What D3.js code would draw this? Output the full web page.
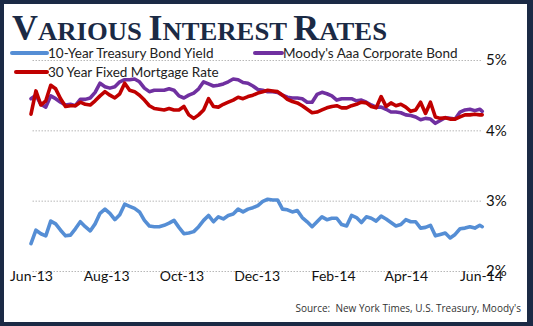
<!DOCTYPE html>
<html><head><meta charset="utf-8">
<script src="https://cdn.jsdelivr.net/npm/d3@7"></script>
<style>html,body{margin:0;padding:0;background:#fff;}svg{display:block;}</style>
</head><body>
<svg id="chart" width="533" height="326"></svg>
<script>
const dates = [
"2013-06-01","2013-06-05","2013-06-09","2013-06-13","2013-06-17","2013-06-21","2013-06-25","2013-06-29",
"2013-07-03","2013-07-07","2013-07-11","2013-07-15","2013-07-19","2013-07-23","2013-07-27","2013-07-31",
"2013-08-04","2013-08-08","2013-08-12","2013-08-16","2013-08-20","2013-08-24","2013-08-28",
"2013-09-01","2013-09-05","2013-09-09","2013-09-13","2013-09-17","2013-09-21","2013-09-25","2013-09-29",
"2013-10-03","2013-10-07","2013-10-11","2013-10-15","2013-10-19","2013-10-23","2013-10-27","2013-10-31",
"2013-11-04","2013-11-08","2013-11-12","2013-11-16","2013-11-20","2013-11-24","2013-11-28",
"2013-12-02","2013-12-06","2013-12-10","2013-12-14","2013-12-18","2013-12-22","2013-12-26","2013-12-30",
"2014-01-03","2014-01-07","2014-01-11","2014-01-15","2014-01-19","2014-01-23","2014-01-27","2014-01-31",
"2014-02-04","2014-02-08","2014-02-12","2014-02-16","2014-02-20","2014-02-24","2014-02-28",
"2014-03-04","2014-03-08","2014-03-12","2014-03-16","2014-03-20","2014-03-24","2014-03-28",
"2014-04-01","2014-04-05","2014-04-09","2014-04-13","2014-04-17","2014-04-21","2014-04-25","2014-04-29",
"2014-05-03","2014-05-07","2014-05-11","2014-05-15","2014-05-19","2014-05-23","2014-05-27","2014-05-31",
"2014-06-02"];

const treasury10y = [
2.39,2.58,2.53,2.50,2.71,2.67,2.58,2.50,
2.51,2.60,2.70,2.63,2.57,2.67,2.82,2.88,
2.82,2.73,2.80,2.95,2.92,2.89,2.84,
2.72,2.64,2.63,2.63,2.65,2.68,2.72,2.62,
2.53,2.54,2.56,2.63,2.72,2.79,2.70,2.77,
2.74,2.79,2.81,2.88,2.84,2.88,2.90,
2.93,2.99,3.02,3.01,3.01,2.88,2.87,2.84,
2.86,2.76,2.70,2.63,2.70,2.77,2.73,2.75,
2.75,2.66,2.64,2.79,2.76,2.69,2.77,
2.75,2.71,2.78,2.74,2.69,2.64,2.66,
2.73,2.70,2.70,2.61,2.62,2.65,2.50,2.52,
2.54,2.47,2.52,2.60,2.61,2.63,2.61,2.65,
2.63];

const moodysAaa = [
4.45,4.50,4.37,4.33,4.49,4.45,4.40,4.36,
4.37,4.35,4.44,4.44,4.46,4.54,4.67,4.62,
4.60,4.62,4.69,4.72,4.72,4.73,4.69,
4.60,4.55,4.57,4.57,4.57,4.59,4.57,4.49,
4.46,4.50,4.53,4.59,4.69,4.66,4.63,4.64,
4.66,4.69,4.73,4.72,4.68,4.67,4.63,
4.58,4.57,4.55,4.55,4.54,4.50,4.47,4.46,
4.46,4.45,4.40,4.40,4.51,4.54,4.52,4.49,
4.43,4.45,4.45,4.45,4.42,4.43,4.40,
4.36,4.33,4.33,4.30,4.26,4.26,4.25,
4.22,4.21,4.19,4.15,4.17,4.16,4.10,4.14,
4.18,4.17,4.16,4.26,4.29,4.30,4.28,4.30,
4.27];

const mortgage30y = [
4.23,4.56,4.36,4.42,4.64,4.59,4.45,4.34,
4.35,4.35,4.40,4.37,4.36,4.42,4.49,4.55,
4.50,4.46,4.52,4.67,4.57,4.55,4.50,
4.43,4.35,4.31,4.30,4.29,4.31,4.29,4.29,
4.34,4.22,4.17,4.22,4.29,4.45,4.34,4.33,
4.37,4.40,4.43,4.47,4.45,4.48,4.50,
4.53,4.55,4.57,4.56,4.55,4.50,4.44,4.41,
4.39,4.35,4.30,4.25,4.26,4.29,4.32,4.34,
4.35,4.32,4.32,4.35,4.37,4.40,4.39,
4.34,4.32,4.48,4.34,4.39,4.35,4.37,
4.33,4.27,4.29,4.40,4.24,4.40,4.19,4.17,
4.18,4.16,4.16,4.19,4.22,4.22,4.23,4.22,
4.22];

const xTickDates = ["2013-06-01","2013-08-01","2013-10-01","2013-12-01","2014-02-01","2014-04-01","2014-06-01"];
const xTickLabels = ["Jun-13","Aug-13","Oct-13","Dec-13","Feb-14","Apr-14","Jun-14"];
const yTicks = [2,3,4,5];
const yTickLabels = ["2%","3%","4%","5%"];
const seriesNames = ["10-Year Treasury Bond Yield","Moody's Aaa Corporate Bond","30 Year Fixed Mortgage Rate"];
const seriesColors = ["#558ed5","#7030a0","#c00000"];

const parse = d3.timeParse("%Y-%m-%d");
const svg = d3.select("#chart");
const navy = "#1b2a45";

svg.append("rect").attr("width",533).attr("height",326).attr("fill",navy);
svg.append("rect").attr("x",4).attr("y",4).attr("width",523).attr("height",318).attr("fill","#fff");

const x = d3.scaleTime().domain([parse("2013-06-01"), parse("2014-06-01")]).range([31,481]);
const y = d3.scaleLinear().domain([2,5]).range([271,60]);

// Y axis with dotted gridlines
const yAxis = svg.append("g").attr("transform","translate(481,0)")
  .call(d3.axisRight(y).tickValues(yTicks).tickSize(-450).tickPadding(5)
    .tickFormat((d,i)=>yTickLabels[i]));
yAxis.select(".domain").remove();
yAxis.selectAll("line").attr("stroke","#b8b8b8").attr("stroke-dasharray","1.5,1.5");
yAxis.selectAll("text").attr("font-family","Lato, 'DejaVu Sans', sans-serif").attr("font-size",15).attr("fill","#111");

// X axis
const xAxis = svg.append("g").attr("transform","translate(0,271)")
  .call(d3.axisBottom(x).tickValues(xTickDates.map(parse)).tickSize(0).tickPadding(0)
    .tickFormat((d,i)=>xTickLabels[i]));
xAxis.select(".domain").remove();
xAxis.selectAll("text").attr("font-family","Lato, 'DejaVu Sans', sans-serif").attr("font-size",14).attr("fill","#111");

// Lines
const series = [treasury10y, moodysAaa, mortgage30y];
const line = d3.line().x((d,i)=>x(parse(dates[i]))).y(d=>y(d));
series.forEach((s,k)=>{
  svg.append("path").datum(s).attr("d",line).attr("fill","none")
    .attr("stroke",seriesColors[k]).attr("stroke-width",3.6)
    .attr("stroke-linejoin","round").attr("stroke-linecap","round");
});

// Legend
const legendPos = [{x1:12,x2:47,y:53,tx:48},{x1:255,x2:282,y:53,tx:283},{x1:16,x2:47,y:72,tx:48}];
legendPos.forEach((p,k)=>{
  svg.append("line").attr("x1",p.x1).attr("x2",p.x2).attr("y1",p.y).attr("y2",p.y)
    .attr("stroke",seriesColors[k]).attr("stroke-width",4).attr("stroke-linecap","round");
  svg.append("text").attr("x",p.tx).attr("y",p.y+4.5).text(seriesNames[k])
    .attr("font-family","Lato, 'DejaVu Sans', sans-serif").attr("font-size",13.5).attr("fill","#222");
});

// Title (small caps)
const title = svg.append("text").attr("x",12).attr("y",40)
  .attr("font-family","'Liberation Serif', serif").attr("font-weight","bold").attr("fill",navy)
  .attr("textLength",375).attr("lengthAdjust","spacingAndGlyphs");
[["V","ARIOUS "],["I","NTEREST "],["R","ATES"]].forEach(([a,b])=>{
  title.append("tspan").attr("font-size",35).text(a);
  title.append("tspan").attr("font-size",26).text(b);
});

// Source
svg.append("text").attr("x",521).attr("y",312).attr("text-anchor","end")
  .attr("font-family","'Open Sans', sans-serif").attr("font-size",10).attr("fill","#333")
  .attr("xml:space","preserve").text("Source:  New York Times, U.S. Treasury, Moody's");
</script>
</body></html>
